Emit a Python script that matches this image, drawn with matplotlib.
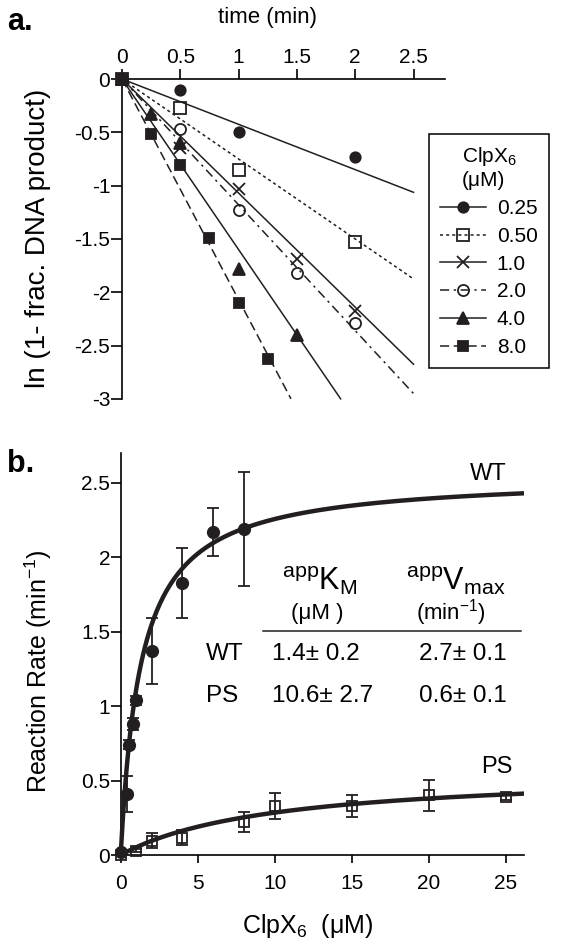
import numpy as np
import matplotlib
matplotlib.use("Agg")
import matplotlib.pyplot as plt
from matplotlib.ticker import FuncFormatter
from matplotlib.lines import Line2D

plt.rcParams['font.family'] = ['Liberation Sans', 'DejaVu Sans']
plt.rcParams['mathtext.default'] = 'regular'
plt.rcParams['axes.unicode_minus'] = False

ink = '#231f20'
W, H = 562, 947

# ---- panel a: ln(1 - fraction product) vs time for each ClpX6 concentration
conc_labels = ['0.25', '0.50', '1.0', '2.0', '4.0', '8.0']
t_025 = [0, 0.5, 1, 2]
y_025 = [0, -0.10, -0.50, -0.73]
t_050 = [0, 0.5, 1, 2]
y_050 = [0, -0.27, -0.85, -1.53]
t_100 = [0, 0.5, 1, 1.5, 2]
y_100 = [0, -0.65, -1.03, -1.69, -2.18]
t_200 = [0, 0.5, 1, 1.5, 2]
y_200 = [0, -0.47, -1.23, -1.82, -2.29]
t_400 = [0, 0.25, 0.5, 1, 1.5]
y_400 = [0, -0.33, -0.60, -1.78, -2.40]
t_800 = [0, 0.25, 0.5, 0.75, 1, 1.25]
y_800 = [0, -0.52, -0.81, -1.49, -2.10, -2.63]
fit_slopes = [-0.425, -0.75, -1.07, -1.18, -1.60, -2.07]  # per min

# ---- panel b: rate vs ClpX6 concentration
wt_conc = [0, 0.4, 0.55, 0.8, 1.0, 2, 4, 6, 8]
wt_rate = [0.02, 0.41, 0.74, 0.88, 1.04, 1.37, 1.83, 2.17, 2.19]
wt_err = [0, 0.12, 0.03, 0.04, 0.03, 0.22, 0.235, 0.16, 0.38]
ps_conc = [0, 1, 2, 4, 8, 10, 15, 20, 25]
ps_rate = [0.0, 0.03, 0.096, 0.116, 0.223, 0.33, 0.33, 0.40, 0.39]
ps_err = [0, 0.01, 0.05, 0.05, 0.065, 0.085, 0.075, 0.105, 0.02]
# hyperbolic fit curves as drawn (Vmax, Km)
wt_fit = (2.55, 1.3)
ps_fit = (0.57, 10.0)

table_rows = ['WT', 'PS']
km_text = ['1.4\u00b1 0.2', '10.6\u00b1 2.7']
vmax_text = ['2.7\u00b1 0.1', '0.6\u00b1 0.1']


def fx(px):
    return px / W


def fy(py):
    return 1 - py / H


fig = plt.figure(figsize=(5.62, 9.47), dpi=100)

# ================= panel a =================
ax = fig.add_axes([fx(116), fy(401), fx(445) - fx(116), fy(73.7) - fy(401)])
ax.set_xlim(-0.0515, 2.77)
ax.set_ylim(-3.02, 0.05)

series = [(t_025, y_025), (t_050, y_050), (t_100, y_100),
          (t_200, y_200), (t_400, y_400), (t_800, y_800)]
markers = ['o', 's', 'x', 'o', '^', 's']
msizes = [7.5, 8, 8.5, 8, 8, 7.5]
fills = [ink, 'none', ink, 'none', ink, ink]
styles = ['-', (0, (2, 2)), '-', (0, (6, 3, 1.5, 3)), '-', (0, (6, 3))]

handles = []
for (t, y), k, m, ms, fc, ls in zip(series, fit_slopes, markers, msizes, fills, styles):
    t_end = min(2.5, -3.0 / k)
    ax.plot([0, t_end], [0, k * t_end], color=ink, lw=1.1, ls=ls, zorder=2)
    ax.plot(t, y, ls='none', marker=m, ms=ms, mfc=fc, mec=ink, mew=1.3,
            color=ink, clip_on=False, zorder=3)
    handles.append(Line2D([], [], color=ink, lw=1.1, ls=ls, marker=m, ms=ms,
                          mfc=fc, mec=ink, mew=1.3))

for s in ['right', 'bottom']:
    ax.spines[s].set_visible(False)
ax.spines['left'].set_position(('data', 0))
ax.spines['top'].set_position(('data', 0))
ax.spines['left'].set_bounds(-3, 0)
ax.spines['top'].set_bounds(0, 2.77)
for s in ['left', 'top']:
    ax.spines[s].set_linewidth(1.2)
ax.xaxis.set_ticks_position('top')
ax.set_xticks([0, 0.5, 1, 1.5, 2, 2.5])
ax.set_yticks([0, -0.5, -1, -1.5, -2, -2.5, -3])
fmt = FuncFormatter(lambda v, p: '%g' % v)
ax.xaxis.set_major_formatter(fmt)
ax.yaxis.set_major_formatter(fmt)
ax.tick_params(axis='x', direction='out', length=7, width=1.2, pad=2, labelsize=15)
ax.tick_params(axis='y', direction='out', length=8, width=1.2, pad=0.5, labelsize=15)

fig.text(fx(267), fy(17), 'time (min)', ha='center', va='center', fontsize=16)
fig.text(fx(38), fy(238), 'ln (1- frac. DNA product)', rotation=90,
         ha='center', va='center', fontsize=20)
fig.text(fx(7), fy(30), 'a.', fontsize=22, fontweight='bold', va='baseline')

leg = ax.legend(handles, conc_labels, title='ClpX$_6$\n(\u03bcM)',
                loc='upper left', bbox_to_anchor=(fx(429), fy(134)),
                bbox_transform=fig.transFigure, fancybox=False, framealpha=1,
                edgecolor='black', fontsize=15, title_fontsize=15,
                handlelength=2.2, handletextpad=0.5, labelspacing=0.42,
                borderpad=0.55, borderaxespad=0, numpoints=1)
leg.get_frame().set_linewidth(1.1)

# ================= panel b =================
bx = fig.add_axes([fx(113), fy(859.5), fx(524.2) - fx(113), fy(453) - fy(859.5)])
bx.set_xlim(-0.5, 26.2)
bx.set_ylim(-0.03, 2.7)

xs = np.linspace(0, 26.2, 400)
bx.plot(xs, wt_fit[0] * xs / (wt_fit[1] + xs), color=ink, lw=3.2, zorder=4)
bx.plot(xs, ps_fit[0] * xs / (ps_fit[1] + xs), color=ink, lw=3.2, zorder=4)

bx.errorbar(wt_conc, wt_rate, yerr=wt_err, fmt='o', ms=8.5, color=ink,
            ecolor=ink, elinewidth=1.3, capsize=4, capthick=1.3,
            clip_on=False, zorder=3)
bx.errorbar(ps_conc, ps_rate, yerr=ps_err, fmt='s', ms=7, mfc='none',
            mec=ink, mew=1.3, color=ink, ecolor=ink, elinewidth=1.3,
            capsize=4, capthick=1.3, clip_on=False, zorder=3)

for s in ['right', 'top']:
    bx.spines[s].set_visible(False)
bx.spines['left'].set_position(('data', 0))
bx.spines['bottom'].set_position(('data', 0))
bx.spines['left'].set_bounds(0, 2.7)
bx.spines['bottom'].set_bounds(0, 26.2)
for s in ['left', 'bottom']:
    bx.spines[s].set_linewidth(1.2)
bx.set_xticks([0, 5, 10, 15, 20, 25])
bx.set_yticks([0, 0.5, 1, 1.5, 2, 2.5])
bx.xaxis.set_major_formatter(fmt)
bx.yaxis.set_major_formatter(fmt)
bx.tick_params(axis='x', direction='out', length=6, width=1.2, pad=8, labelsize=15)
bx.tick_params(axis='y', direction='out', length=7, width=1.2, pad=0.5, labelsize=15)

bx.text(23.85, 2.56, 'WT', ha='center', va='center', fontsize=17)
bx.text(24.4, 0.59, 'PS', ha='center', va='center', fontsize=17)

fig.text(fx(308), fy(926), 'ClpX$_6$  (\u03bcM)', ha='center', va='center', fontsize=18)
fig.text(fx(38), fy(671), 'Reaction Rate (min$^{-1}$)', rotation=90,
         ha='center', va='center', fontsize=18)
fig.text(fx(7), fy(472), 'b.', fontsize=22, fontweight='bold', va='baseline')

# kinetic parameter table
fig.text(fx(320), fy(590), '$^{app}$K$_M$', ha='center', va='baseline', fontsize=22)
fig.text(fx(456), fy(590), '$^{app}$V$_{max}$', ha='center', va='baseline', fontsize=22)
fig.text(fx(317), fy(613), '(\u03bcM )', ha='center', va='center', fontsize=16)
fig.text(fx(451), fy(613), '(min$^{-1}$)', ha='center', va='center', fontsize=16)
fig.add_artist(Line2D([fx(263), fx(521)], [fy(631), fy(631)], color=ink, lw=1.1,
                      transform=fig.transFigure))
row_base = [660, 702]
for name, km, vm, yb in zip(table_rows, km_text, vmax_text, row_base):
    fig.text(fx(206), fy(yb), name, ha='left', va='baseline', fontsize=17.5)
    fig.text(fx(272), fy(yb), km, ha='left', va='baseline', fontsize=17.5)
    fig.text(fx(419), fy(yb), vm, ha='left', va='baseline', fontsize=17.5)

fig.savefig('out.png', dpi=100)
